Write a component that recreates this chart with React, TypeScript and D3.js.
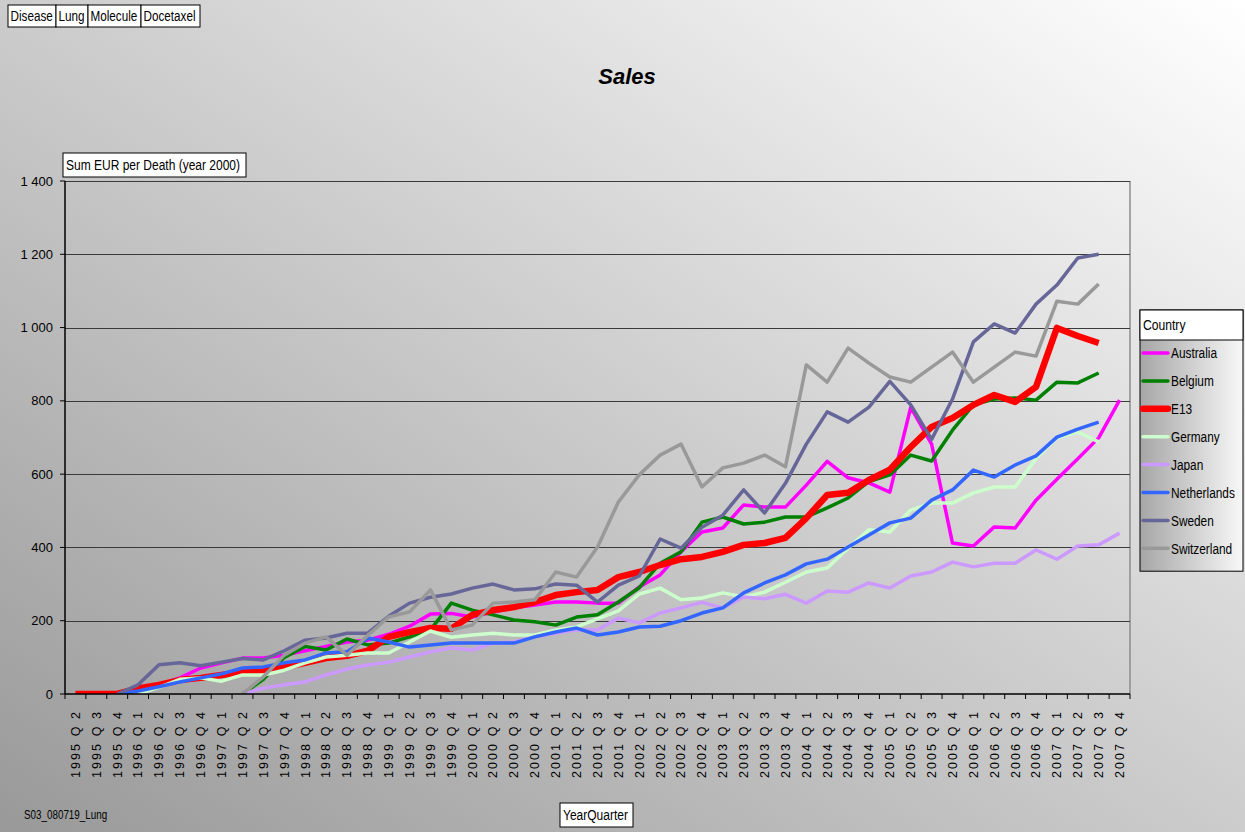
import React from "react";
import * as d3 from "d3";

const years = [1995, 1996, 1997, 1998, 1999, 2000, 2001, 2002, 2003, 2004, 2005, 2006, 2007];
const quarterNames = ["Q 1", "Q 2", "Q 3", "Q 4"];
const categories: string[] = [];
years.forEach((y) => quarterNames.forEach((q, i) => {
  if (y === 1995 && i === 0) return;
  categories.push(`${y} ${q}`);
}));

const N = null;
const australia = [N, N, 0, 10, 25, 44, 71, 85, 98, 98, 106, 118, 130, 142, 147, 163, 185, 218, 220, 210, 224, 235, 243, 251, 251, 248, 248, 292, 325, 388, 442, 453, 516, 510, 510, 570, 635, 590, 576, 551, 782, 682, 412, 404, 456, 453, 529, 586, 642, 699, 802];
const belgium = [N, N, N, N, N, N, N, N, 0, 40, 100, 130, 120, 150, 134, 139, 156, 175, 248, 229, 216, 202, 197, 188, 210, 216, 251, 290, 357, 388, 469, 483, 464, 469, 483, 483, 508, 535, 580, 598, 652, 636, 720, 789, 805, 808, 802, 851, 849, 876, N];
const e13 = [0, 0, 0, 15, 25, 38, 44, 52, 60, 65, 73, 85, 98, 104, 118, 156, 169, 180, 178, 216, 229, 237, 251, 270, 278, 284, 319, 333, 352, 368, 374, 388, 407, 412, 426, 480, 543, 549, 584, 612, 674, 729, 753, 789, 816, 797, 838, 999, 977, 958, N];
const germany = [N, N, N, 0, 18, 40, 44, 35, 52, 52, 65, 85, 101, 106, 112, 112, 142, 172, 155, 161, 166, 161, 161, 175, 183, 205, 227, 273, 289, 257, 262, 276, 265, 278, 305, 333, 344, 398, 448, 442, 502, 521, 521, 549, 565, 565, 643, 699, 715, 688, N];
const japan = [N, N, N, N, N, N, N, N, 0, 16, 25, 33, 52, 68, 79, 87, 101, 115, 126, 120, 139, 142, 156, 166, 175, 175, 207, 194, 221, 235, 250, 235, 265, 260, 272, 248, 281, 278, 303, 289, 322, 333, 360, 347, 357, 357, 393, 368, 404, 407, 439];
const netherlands = [N, N, 0, 8, 20, 33, 44, 55, 71, 74, 85, 93, 112, 115, 153, 142, 128, 134, 139, 139, 139, 139, 156, 169, 180, 161, 169, 183, 185, 200, 221, 235, 276, 303, 325, 355, 368, 401, 434, 467, 480, 529, 557, 611, 592, 625, 650, 701, 723, 742, N];
const sweden = [N, N, 0, 25, 80, 85, 77, 87, 97, 93, 118, 147, 153, 166, 166, 212, 248, 264, 273, 289, 300, 284, 287, 300, 297, 251, 297, 322, 423, 398, 455, 488, 557, 494, 575, 682, 770, 742, 783, 853, 789, 695, 805, 961, 1010, 985, 1064, 1116, 1190, 1200, N];
const switzerland = [N, N, N, N, N, N, N, N, 0, 47, 106, 139, 156, 106, 160, 210, 224, 284, 175, 188, 248, 251, 257, 333, 319, 401, 524, 598, 652, 682, 565, 617, 630, 652, 620, 898, 851, 944, 903, 865, 851, 892, 933, 851, 892, 933, 922, 1072, 1064, 1119, N];

const seriesNames = ["Australia", "Belgium", "E13", "Germany", "Japan", "Netherlands", "Sweden", "Switzerland"];
const seriesValues = [australia, belgium, e13, germany, japan, netherlands, sweden, switzerland];
const seriesColors = ["#ff00ff", "#008000", "#ff0000", "#ccffcc", "#cc99ff", "#3366ff", "#666699", "#999999"];
const seriesWidths = [3.5, 3.5, 6.5, 3.5, 3.5, 3.5, 3.5, 3.5];

const yTicks = [0, 200, 400, 600, 800, 1000, 1200, 1400];
const headerCells = ["Disease", "Lung", "Molecule", "Docetaxel"];
const headerCellWidths = [48, 32, 53, 59];

const W = 1245, H = 832;
const plot = { left: 65, right: 1130, top: 181, bottom: 694 };
const sans = "'Liberation Sans', Arial, sans-serif";

const fmt = (v: number) => (v >= 1000 ? `${Math.floor(v / 1000)} ${String(v % 1000).padStart(3, "0")}` : String(v));

function NarrowText(props: { x: number; y: number; children: string; size?: number; dy?: string; sx?: number }) {
  return (
    <text transform={`translate(${props.x},${props.y}) scale(${props.sx || 0.81},1)`} dy={props.dy} fontFamily={sans}
      fontSize={props.size || 15} fill="#000">{props.children}</text>
  );
}

export default function App() {
  const x = d3.scaleBand<string>().domain(categories).range([plot.left, plot.right]);
  const y = d3.scaleLinear().domain([0, 1400]).range([plot.bottom, plot.top]);
  const cx = (i: number) => (x(categories[i]) as number) + x.bandwidth() / 2;
  const line = d3
    .line<number | null>()
    .defined((d) => d !== null)
    .x((_, i) => cx(i))
    .y((d) => y(d as number));

  let cellX = 8;

  const legX = 1140, legY = 310, legW = 103, legTitleH = 30, legRowH = 27.9;
  const legH = legTitleH + seriesNames.length * legRowH + 8;

  return (
    <svg width={W} height={H} style={{ position: "absolute", left: 0, top: 0 }} xmlns="http://www.w3.org/2000/svg">
      <defs>
        <linearGradient id="bg" x1="0" y1="1" x2="1" y2="0">
          <stop offset="0" stopColor="#999999" />
          <stop offset="1" stopColor="#ffffff" />
        </linearGradient>
        <linearGradient id="legbg" x1="0" y1="0" x2="1" y2="0">
          <stop offset="0" stopColor="#a6a6a6" />
          <stop offset="1" stopColor="#f8f8f8" />
        </linearGradient>
        <clipPath id="plotclip">
          <rect x={plot.left} y={plot.top} width={plot.right - plot.left} height={plot.bottom - plot.top} />
        </clipPath>
      </defs>
      <rect x={0} y={0} width={W} height={H} fill="url(#bg)" />

      {/* header cells */}
      {headerCells.map((t, i) => {
        const cx0 = cellX;
        cellX += headerCellWidths[i];
        return (
          <g key={t}>
            <rect x={cx0} y={5} width={headerCellWidths[i]} height={22} fill="#ffffff" stroke="#000" strokeWidth={1} />
            <NarrowText x={cx0 + 2.5} y={21} sx={0.78}>{t}</NarrowText>
          </g>
        );
      })}

      {/* title */}
      <text x={627} y={84} textAnchor="middle" fontFamily={sans} fontSize={22} fontWeight="bold" fontStyle="italic" fill="#000">Sales</text>

      {/* plot border right */}
      <line x1={plot.right} x2={plot.right} y1={plot.top} y2={plot.bottom} stroke="#8c8c8c" strokeWidth={1.5} />

      {/* gridlines */}
      {yTicks.filter((t) => t > 0).map((t) => (
        <line key={t} x1={plot.left} x2={plot.right} y1={Math.round(y(t)) + 0.5} y2={Math.round(y(t)) + 0.5} stroke="#3a3a3a" strokeWidth={1.2} />
      ))}

      {/* series */}
      <g clipPath="url(#plotclip)">
        {seriesValues.map((vals, si) => (
          <path key={seriesNames[si]} d={line(vals) || ""} fill="none" stroke={seriesColors[si]} strokeWidth={seriesWidths[si]} strokeLinejoin="round" strokeLinecap="butt" />
        ))}
      </g>

      {/* axes */}
      <line x1={plot.left} x2={plot.left} y1={plot.top} y2={plot.bottom} stroke="#000" strokeWidth={1.5} />
      <line x1={plot.left} x2={plot.right} y1={plot.bottom} y2={plot.bottom} stroke="#000" strokeWidth={1.5} />
      {yTicks.map((t) => (
        <g key={t}>
          <line x1={plot.left - 5} x2={plot.left} y1={y(t)} y2={y(t)} stroke="#000" strokeWidth={1} />
          <text x={53} y={y(t)} dy="0.35em" textAnchor="end" fontFamily={sans} fontSize={13} fill="#000">{fmt(t)}</text>
        </g>
      ))}
      {categories.map((c, i) => (
        <g key={c}>
          <line x1={(x(c) as number) + x.bandwidth()} x2={(x(c) as number) + x.bandwidth()} y1={plot.bottom} y2={plot.bottom + 5} stroke="#000" strokeWidth={1} />
          <text transform={`translate(${cx(i)},${712}) rotate(-90)`} textAnchor="end" dy="0.35em" fontFamily={sans} fontSize={12.5} fill="#000"
            textLength={66} lengthAdjust="spacing">{c}</text>
        </g>
      ))}
      <line x1={plot.left} x2={plot.left} y1={plot.bottom} y2={plot.bottom + 5} stroke="#000" strokeWidth={1} />

      {/* y axis title */}
      <rect x={63} y={153} width={183} height={24} fill="#ffffff" stroke="#000" strokeWidth={1} />
      <NarrowText x={66} y={170} sx={0.8}>Sum EUR per Death (year 2000)</NarrowText>

      {/* x axis title */}
      <rect x={560} y={803} width={73} height={24} fill="#ffffff" stroke="#000" strokeWidth={1} />
      <NarrowText x={563} y={820} sx={0.8}>YearQuarter</NarrowText>

      {/* footnote */}
      <NarrowText x={24} y={819} size={12} sx={0.82}>S03_080719_Lung</NarrowText>

      {/* legend */}
      <rect x={legX} y={legY} width={legW} height={legH} fill="url(#legbg)" stroke="#000" strokeWidth={1} />
      <rect x={legX} y={legY} width={legW} height={legTitleH} fill="#ffffff" stroke="#000" strokeWidth={1} />
      <NarrowText x={legX + 3} y={legY + 20}>Country</NarrowText>
      {seriesNames.map((n, i) => {
        const ly = legY + legTitleH + 13 + i * legRowH;
        return (
          <g key={n}>
            <line x1={legX + 3} x2={legX + 28} y1={ly} y2={ly} stroke={seriesColors[i]} strokeWidth={seriesWidths[i]} strokeLinecap="round" />
            <NarrowText x={legX + 31} y={ly} dy="0.35em" sx={0.79}>{n}</NarrowText>
          </g>
        );
      })}
    </svg>
  );
}
